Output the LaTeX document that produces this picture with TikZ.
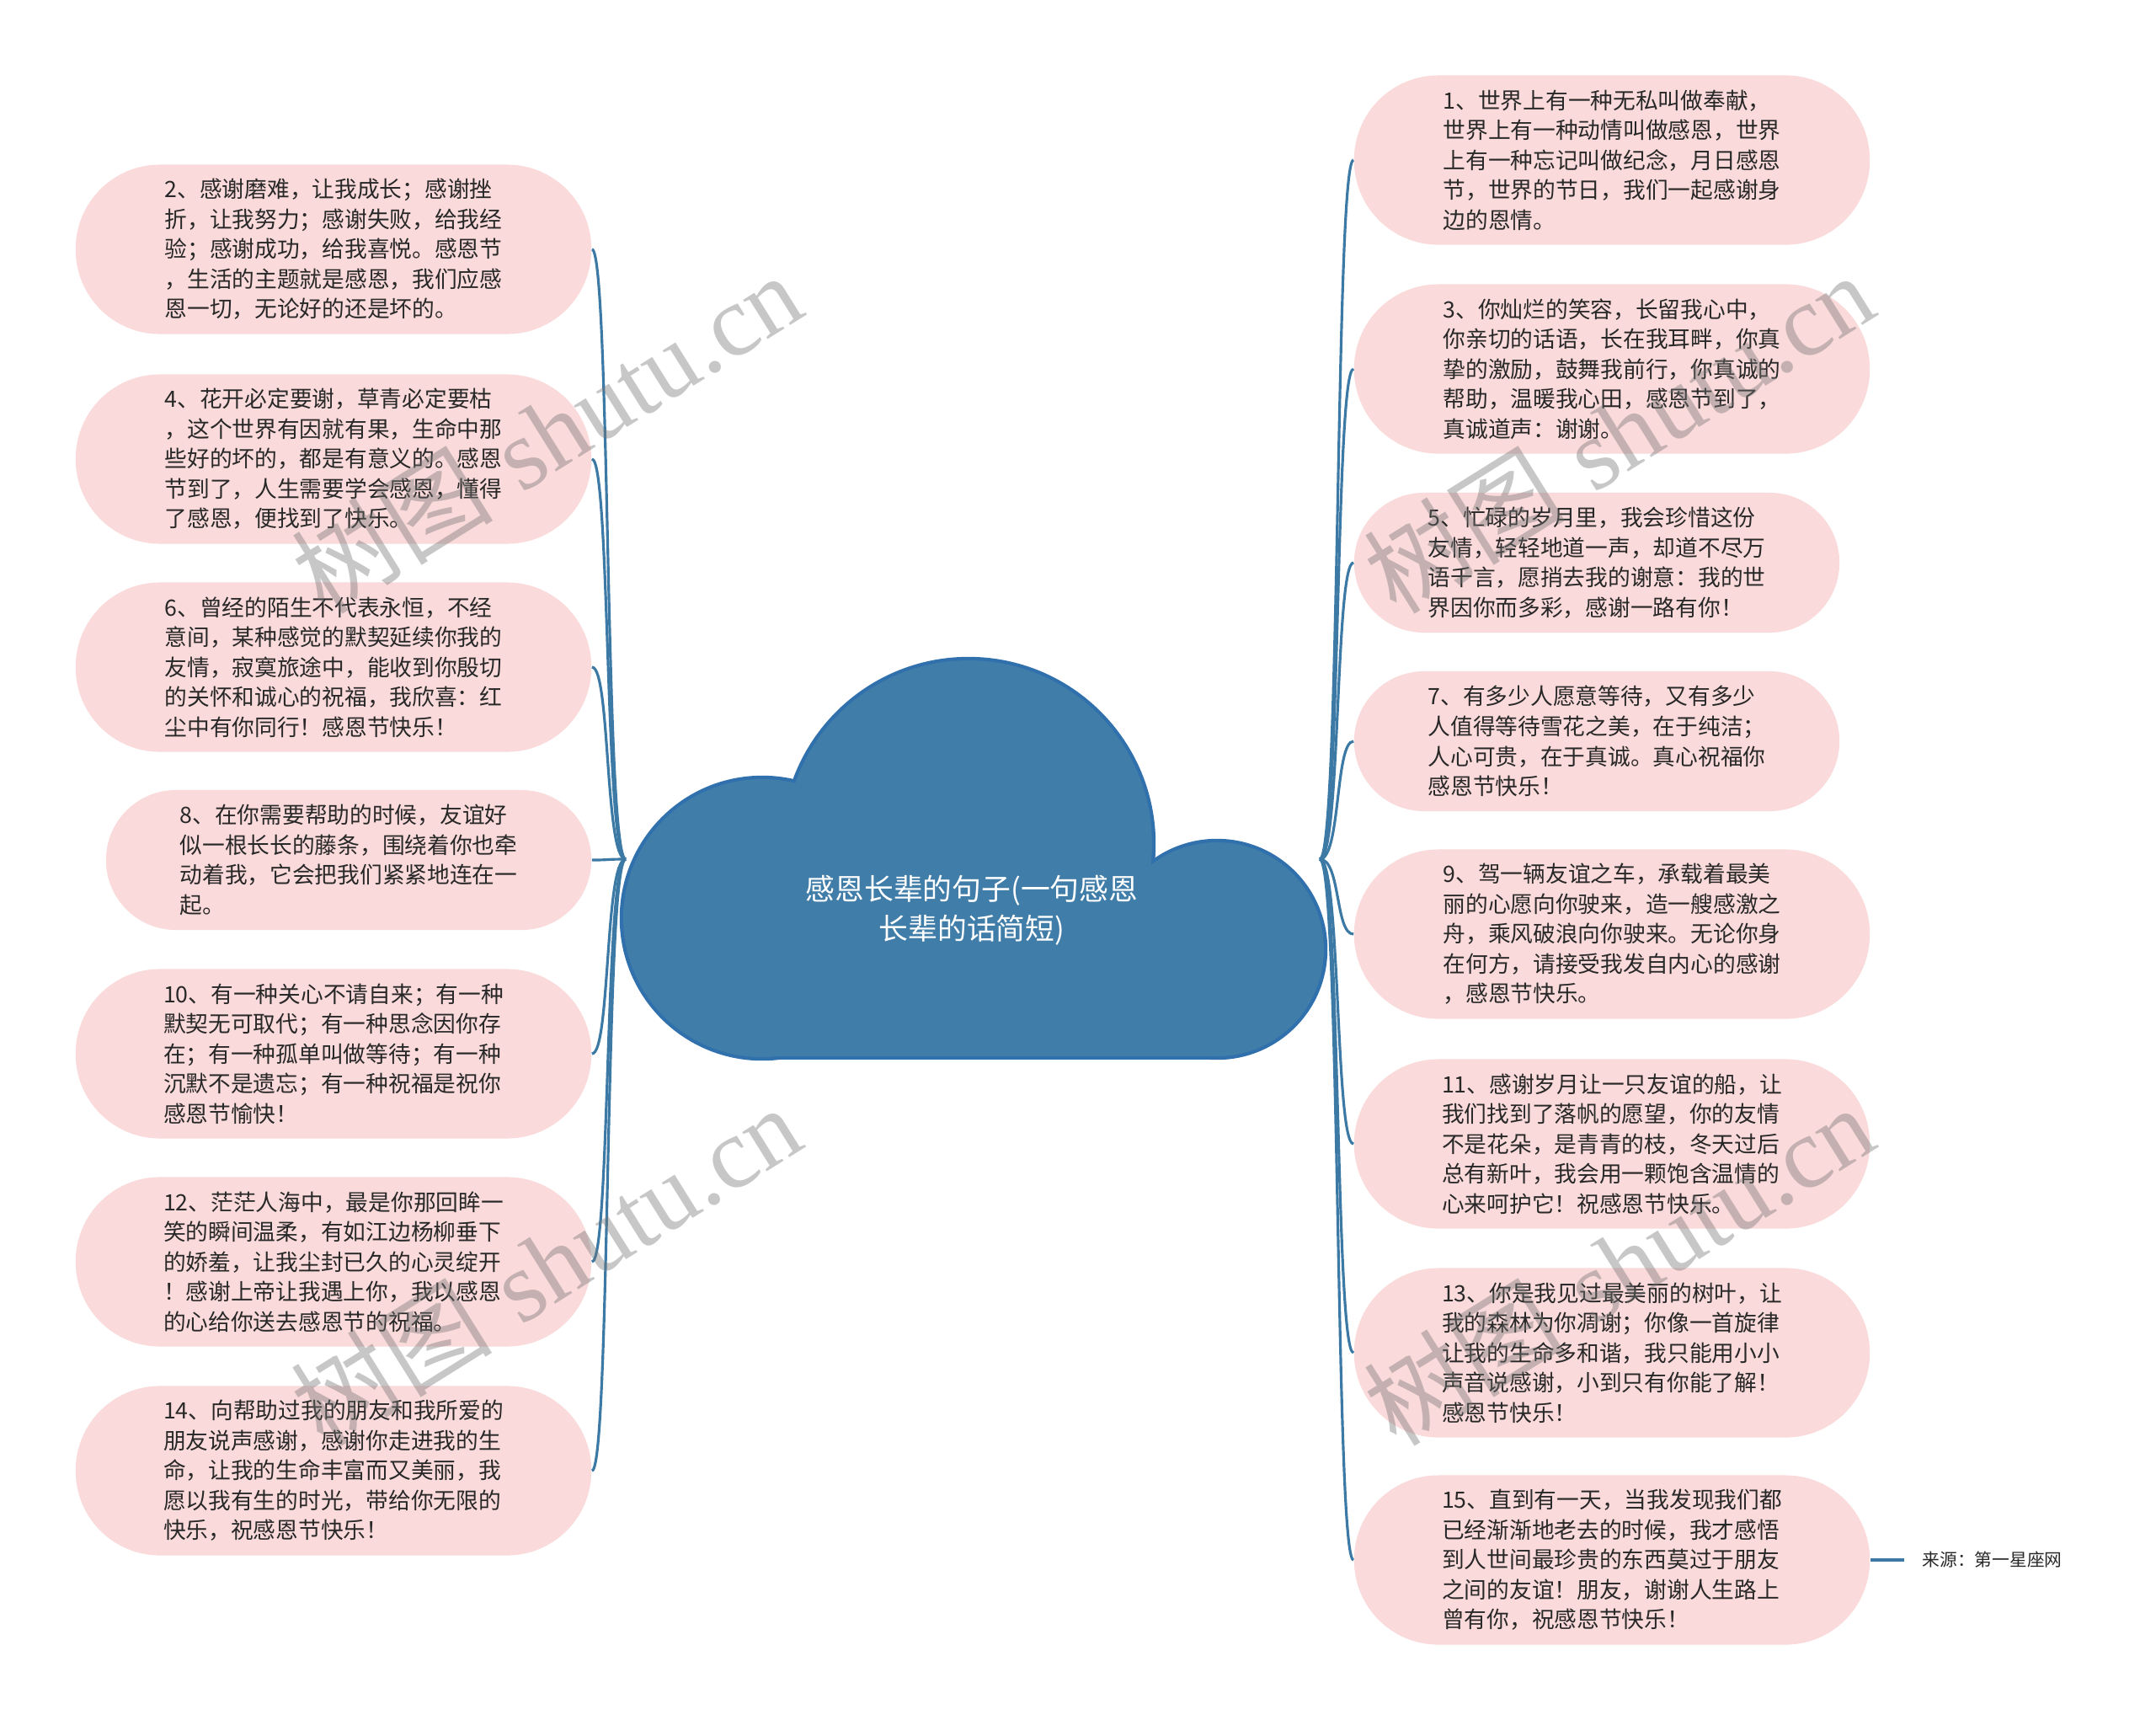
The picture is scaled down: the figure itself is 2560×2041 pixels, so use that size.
\documentclass[tikz,border=0pt]{standalone}
\usepackage{fontspec}
\newfontfamily\cjk{Noto Sans CJK SC}
\newfontfamily\wmserif{Liberation Serif}
\definecolor{pinkfill}{RGB}{250,218,218}
\definecolor{linkblue}{RGB}{60,122,165}
\definecolor{cloudblue}{RGB}{64,125,168}
\definecolor{cloudedge}{RGB}{48,112,172}
\definecolor{txt}{RGB}{40,40,40}
\begin{document}
\begin{tikzpicture}[x=0.01cm,y=-0.01cm,
  leaf/.style={fill=pinkfill, rounded corners=1cm, minimum width=6.12cm, minimum height=2.01cm,
    inner sep=0pt, align=left, text=txt, font=\cjk\fontsize{7.6}{10.1}\selectfont},
  leafs/.style={leaf, minimum width=5.76cm, minimum height=1.66cm, rounded corners=0.83cm},
  conn/.style={draw=linkblue, line width=0.9pt},
  cloudstroke/.style={draw=cloudedge, line width=2.4pt},
  cloudbody/.style={fill=cloudblue},
  wm/.style={rotate=32, text=black!55, opacity=0.4, font=\fontsize{34}{34}\selectfont}
]
\useasboundingbox[fill=white] (0,0) rectangle (2560,2041);

% cloud: strokes first, then fills on top leave the outer outline
\draw[cloudstroke] (905,1090) circle[radius=165];
\draw[cloudstroke] (1150,1002) circle[radius=218];
\draw[cloudstroke] (1445,1127) circle[radius=127];
\draw[cloudstroke] (905,1090) rectangle (1445,1254);
\fill[cloudbody] (905,1090) circle[radius=165];
\fill[cloudbody] (1150,1002) circle[radius=218];
\fill[cloudbody] (1445,1127) circle[radius=127];
\fill[cloudbody] (905,1090) rectangle (1445,1254);

\node[text=white, align=center, font=\cjk\fontsize{9.9}{13.4}\selectfont] (root) at (1154,1081)
  {感恩长辈的句子(一句感恩\\长辈的话简短)};
\coordinate (rootL) at (743,1020);
\coordinate (rootR) at (1567,1020);

% left leaves
\node[leaf] (n2) at (396,296) {2、感谢磨难，让我成长；感谢挫\\折，让我努力；感谢失败，给我经\\验；感谢成功，给我喜悦。感恩节\\，生活的主题就是感恩，我们应感\\恩一切，无论好的还是坏的。};
\node[leaf] (n4) at (396,545) {4、花开必定要谢，草青必定要枯\\，这个世界有因就有果，生命中那\\些好的坏的，都是有意义的。感恩\\节到了，人生需要学会感恩，懂得\\了感恩，便找到了快乐。};
\node[leaf] (n6) at (396,792) {6、曾经的陌生不代表永恒，不经\\意间，某种感觉的默契延续你我的\\友情，寂寞旅途中，能收到你殷切\\的关怀和诚心的祝福，我欣喜：红\\尘中有你同行！感恩节快乐！};
\node[leafs] (n8) at (414,1021) {8、在你需要帮助的时候，友谊好\\似一根长长的藤条，围绕着你也牵\\动着我，它会把我们紧紧地连在一\\起。};
\node[leaf] (n10) at (396,1251) {10、有一种关心不请自来；有一种\\默契无可取代；有一种思念因你存\\在；有一种孤单叫做等待；有一种\\沉默不是遗忘；有一种祝福是祝你\\感恩节愉快！};
\node[leaf] (n12) at (396,1498) {12、茫茫人海中，最是你那回眸一\\笑的瞬间温柔，有如江边杨柳垂下\\的娇羞，让我尘封已久的心灵绽开\\！感谢上帝让我遇上你，我以感恩\\的心给你送去感恩节的祝福。};
\node[leaf] (n14) at (396,1746) {14、向帮助过我的朋友和我所爱的\\朋友说声感谢，感谢你走进我的生\\命，让我的生命丰富而又美丽，我\\愿以我有生的时光，带给你无限的\\快乐，祝感恩节快乐！};

% right leaves
\node[leaf] (n1) at (1914,190) {1、世界上有一种无私叫做奉献，\\世界上有一种动情叫做感恩，世界\\上有一种忘记叫做纪念，月日感恩\\节，世界的节日，我们一起感谢身\\边的恩情。};
\node[leaf] (n3) at (1914,438) {3、你灿烂的笑容，长留我心中，\\你亲切的话语，长在我耳畔，你真\\挚的激励，鼓舞我前行，你真诚的\\帮助，温暖我心田，感恩节到了，\\真诚道声：谢谢。};
\node[leafs] (n5) at (1896,668) {5、忙碌的岁月里，我会珍惜这份\\友情，轻轻地道一声，却道不尽万\\语千言，愿捎去我的谢意：我的世\\界因你而多彩，感谢一路有你！};
\node[leafs] (n7) at (1896,880) {7、有多少人愿意等待，又有多少\\人值得等待雪花之美，在于纯洁；\\人心可贵，在于真诚。真心祝福你\\感恩节快乐！};
\node[leaf] (n9) at (1914,1109) {9、驾一辆友谊之车，承载着最美\\丽的心愿向你驶来，造一艘感激之\\舟，乘风破浪向你驶来。无论你身\\在何方，请接受我发自内心的感谢\\，感恩节快乐。};
\node[leaf] (n11) at (1914,1358) {11、感谢岁月让一只友谊的船，让\\我们找到了落帆的愿望，你的友情\\不是花朵，是青青的枝，冬天过后\\总有新叶，我会用一颗饱含温情的\\心来呵护它！祝感恩节快乐。};
\node[leaf] (n13) at (1914,1606) {13、你是我见过最美丽的树叶，让\\我的森林为你凋谢；你像一首旋律\\让我的生命多和谐，我只能用小小\\声音说感谢，小到只有你能了解！\\感恩节快乐！};
\node[leaf] (n15) at (1914,1852) {15、直到有一天，当我发现我们都\\已经渐渐地老去的时候，我才感悟\\到人世间最珍贵的东西莫过于朋友\\之间的友谊！朋友，谢谢人生路上\\曾有你，祝感恩节快乐！};

\node[anchor=west, inner xsep=0.21cm, inner ysep=0pt, text=txt, font=\cjk\fontsize{5.9}{7}\selectfont] (src) at (2261,1852) {来源：第一星座网};

% connectors
\foreach \n in {n2,n4,n6,n8,n10,n12,n14}
  \draw[conn] (rootL) .. controls +(-25,0) and +(22,0) .. (\n.east);
\foreach \n in {n1,n3,n5,n7,n9,n11,n13,n15}
  \draw[conn] (rootR) .. controls +(25,0) and +(-22,0) .. (\n.west);
\draw[conn] (n15.east) -- (src.west);

% watermarks
\node[wm] (wm1) at (649,514) {{\cjk 树图} {\wmserif shutu.cn}};
\node[wm] (wm2) at (648,1502) {{\cjk 树图} {\wmserif shutu.cn}};
\node[wm] (wm3) at (1922,514) {{\cjk 树图} {\wmserif shutu.cn}};
\node[wm] (wm4) at (1922,1502) {{\cjk 树图} {\wmserif shutu.cn}};
\end{tikzpicture}
\end{document}
